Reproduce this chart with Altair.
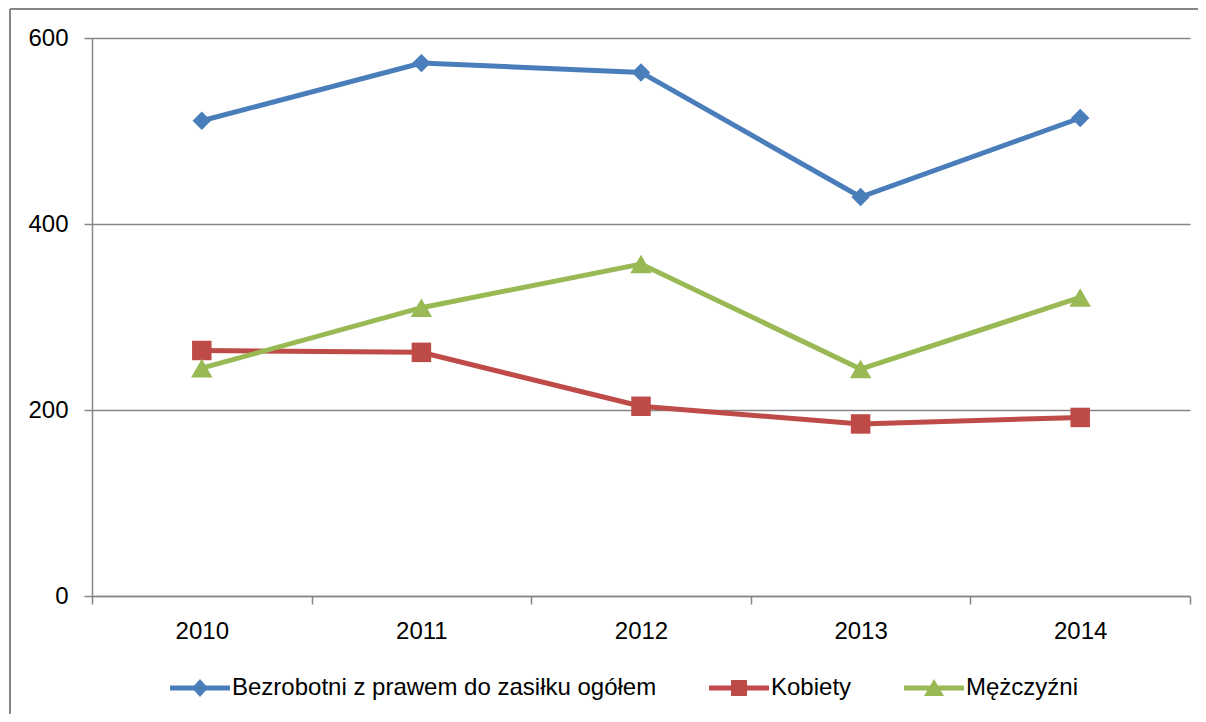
import altair as alt
import pandas as pd

years = ["2010", "2011", "2012", "2013", "2014"]
series = ["Bezrobotni z prawem do zasiłku ogółem", "Kobiety", "Mężczyźni"]
total = [511, 573, 563, 429, 514]
women = [264, 262, 204, 185, 192]
men = [245, 310, 357, 244, 321]
colors = ["#4A7EBB", "#BE4B48", "#98B954"]
marker_shapes = ["diamond", "square", "triangle-up"]
marker_sizes = [340, 380, 460]
legend_paths = [
    "M-3,-0.25H3V0.25H-3Z M0,-0.9L0.8,0L0,0.9L-0.8,0Z",
    "M-3,-0.25H3V0.25H-3Z M-0.8,-0.8H0.8V0.8H-0.8Z",
    "M-3,-0.25H3V0.25H-3Z M0,-0.9L1,0.8H-1Z",
]

values = [total, women, men]
rows = []
for s, vals in zip(series, values):
    for y, v in zip(years, vals):
        rows.append({"year": y, "series": s, "value": v})
df = pd.DataFrame(rows)

FONT = "Liberation Sans"
W, H = 1098, 558

x_enc = alt.X(
    "year:O",
    scale=alt.Scale(type="band", paddingInner=0, paddingOuter=0),
    bandPosition=0.5,
    axis=alt.Axis(
        title=None, labelAngle=0, tickBand="extent", tickSize=8,
        labelPadding=15, labelFontSize=24, labelFont=FONT, labelColor="#000000",
        domainColor="#868686", tickColor="#868686", domainWidth=1.5, tickWidth=1.5,
        grid=False,
    ),
)
y_enc = alt.Y(
    "value:Q",
    scale=alt.Scale(domain=[0, 600], nice=False),
    axis=alt.Axis(
        title=None, values=[0, 200, 400, 600], tickSize=8, labelPadding=16,
        labelFontSize=24, labelFont=FONT, labelColor="#000000",
        domainColor="#868686", tickColor="#868686", domainWidth=1.5, tickWidth=1.5,
        grid=True, gridColor="#868686", gridWidth=1.5,
    ),
)

base = alt.Chart(df)

layers = []
# outer chart border (top and left edges; the rest lies outside the picture)
frame = alt.Chart(pd.DataFrame({"a": [0]}))
layers.append(
    frame.mark_rule(stroke="#868686", strokeWidth=2).encode(
        x=alt.value(-82), x2=alt.value(1300), y=alt.value(-29)
    )
)
layers.append(
    frame.mark_rule(stroke="#868686", strokeWidth=2).encode(
        x=alt.value(-82), y=alt.value(-29), y2=alt.value(800)
    )
)

for s, c in zip(series, colors):
    sub = base.transform_filter(alt.datum.series == s)
    layers.append(
        sub.mark_line(color=c, strokeWidth=5).encode(x=x_enc, y=y_enc)
    )
for s, c, shp, sz in zip(series, colors, marker_shapes, marker_sizes):
    sub = base.transform_filter(alt.datum.series == s)
    layers.append(
        sub.mark_point(color=c, filled=True, opacity=1, shape=shp, size=sz).encode(
            x=x_enc, y=y_enc
        )
    )

leg = dict(
    title=None, orient="none", direction="horizontal",
    legendX=96, legendY=638, symbolSize=400, symbolOpacity=1,
    symbolStrokeWidth=0, labelOffset=20, columnPadding=52,
    labelFontSize=24, labelFont=FONT, labelColor="#000000",
    padding=0, labelLimit=600,
)
legend_layer = base.mark_point(filled=True, opacity=0).encode(
    x=x_enc,
    y=y_enc,
    color=alt.Color(
        "series:N",
        scale=alt.Scale(domain=series, range=colors),
        legend=alt.Legend(**leg),
    ),
    shape=alt.Shape(
        "series:N",
        scale=alt.Scale(domain=series, range=legend_paths),
        legend=alt.Legend(**leg),
    ),
)
layers.append(legend_layer)

chart = alt.layer(*layers).properties(
    width=W, height=H,
    autosize=alt.AutoSizeParams(type="none"),
    padding={"left": 84, "top": 30, "right": 8, "bottom": 118},
    background="#ffffff",
).configure_view(stroke=None)

chart.save("out.html", embed_options={"renderer": "svg", "actions": False})
